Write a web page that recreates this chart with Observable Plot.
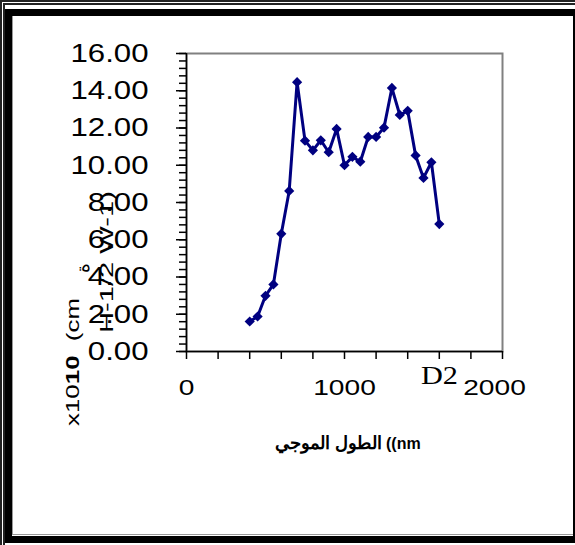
<!DOCTYPE html>
<html>
<head>
<meta charset="utf-8">
<script src="https://cdn.jsdelivr.net/npm/d3@7"></script>
<script src="https://cdn.jsdelivr.net/npm/@observablehq/plot@0.6"></script>
<style>
  html, body { margin: 0; padding: 0; background: #fff; }
  #wrap { position: relative; width: 575px; height: 545px; overflow: hidden; background: #fff; }
  #wrap svg { position: absolute; left: 0; top: 0; }
  .thin { position: absolute; left: 0; top: 0; width: 600px; height: 600px; border-top: 5px double #222; border-left: 5px double #222; box-sizing: border-box; }
  .thick { position: absolute; left: 5px; top: 9px; width: 561px; height: 520px; border: 7px solid #000; }
  .inner { position: absolute; left: 12px; top: 16px; width: 561px; height: 519px; border-left: 1px solid #999; border-bottom: 1px solid #999; box-sizing: border-box; }
</style>
</head>
<body>
<div id="wrap"></div>
<script>
// ---- data ----
const wavelength = [400, 450, 500, 550, 600, 650, 700, 750, 800, 850, 900, 950, 1000,
                    1050, 1100, 1150, 1200, 1250, 1300, 1350, 1400, 1450, 1500, 1550, 1600];
const values = [1.61, 1.88, 2.99, 3.60, 6.32, 8.62, 14.46, 11.32, 10.80, 11.34, 10.70, 11.95, 10.00,
                10.45, 10.19, 11.52, 11.52, 12.02, 14.15, 12.70, 12.92, 10.53, 9.32, 10.16, 6.84];
const yTicks = [0, 2, 4, 6, 8, 10, 12, 14, 16];
const yMinorTicks = d3.range(0, 16.001, 0.4);
const xTicks = d3.range(0, 2001, 200);
const xTickLabels = [0, 1000, 2000];
const xLabelAr = "الطول الموجي";
const xLabelUnit = "((nm";
const yLabelA = "x10";
const yLabelB = "10";
const yLabelC = "  (cm";
const yLabel2 = "H-1/2 W-1)";
const yLabelAr = "ة";
const seriesName = "D2";

const data = wavelength.map((w, i) => ({w, v: values[i]}));

const chart = Plot.plot({
  width: 575,
  height: 545,
  marginLeft: 186,
  marginRight: 73,
  marginTop: 53,
  marginBottom: 194,
  x: {domain: [0, 2000]},
  y: {domain: [0, 16]},
  style: {fontFamily: "'Liberation Sans', Arial, sans-serif", background: "transparent", color: "#000", overflow: "visible"},
  marks: [
    Plot.frame({stroke: "#808080", strokeWidth: 2}),
    Plot.axisY({ticks: yMinorTicks, tickSize: 7, tickFormat: () => "", label: null, strokeWidth: 1.5}),
    Plot.axisY({ticks: yTicks, tickSize: 10, tickPadding: 28, tickFormat: d => d.toFixed(2), label: null, fontSize: 26, strokeWidth: 1.5}),
    Plot.axisX({ticks: xTicks, tickSize: 8, tickPadding: 20, tickFormat: d => xTickLabels.includes(d) ? String(d) : "", label: null, fontSize: 22, strokeWidth: 1.5}),
    Plot.ruleX([0], {stroke: "#000", strokeWidth: 1.5}),
    Plot.ruleY([0], {stroke: "#000", strokeWidth: 1.5}),
    Plot.line(data, {x: "w", y: "v", stroke: "#000080", strokeWidth: 3}),
    Plot.dot(data, {x: "w", y: "v", symbol: "diamond2", r: 4.6, fill: "#000080", stroke: "none"})
  ]
});

const wrap = document.getElementById("wrap");
wrap.appendChild(chart);
["thin", "thick", "inner"].forEach(c => { const d = document.createElement("div"); d.className = c; wrap.appendChild(d); });

const svg = d3.select(chart);

// horizontally stretch tick labels (about their anchor) to match reference proportions;
// the last x label is nudged left, as in the reference
function stretch(sel, s) {
  sel.each(function() {
    const shift = this.textContent === "2000" ? -8 : 0;
    const tr = this.getAttribute("transform");
    if (tr) {
      this.setAttribute("transform", tr + ` translate(${shift},0) scale(${s},1)`);
    } else {
      const x = +this.getAttribute("x") || 0, y = +this.getAttribute("y") || 0;
      this.removeAttribute("x"); this.removeAttribute("y");
      this.setAttribute("transform", `translate(${x + shift},${y}) scale(${s},1)`);
    }
  });
}
stretch(svg.selectAll('g[aria-label="y-axis tick label"] text'), 1.2);
stretch(svg.selectAll('g[aria-label="x-axis tick label"] text'), 1.28);

// y-axis title (rotated)
const t1 = svg.append("text")
  .attr("transform", "translate(72,362) rotate(-90)")
  .attr("text-anchor", "middle")
  .attr("dy", "0.35em")
  .attr("font-size", 19)
  .style("white-space", "pre")
  .attr("textLength", 128)
  .attr("lengthAdjust", "spacingAndGlyphs");
t1.append("tspan").text(yLabelA);
t1.append("tspan").attr("font-weight", "bold").text(yLabelB);
t1.append("tspan").text(yLabelC);

svg.append("text")
  .attr("transform", "translate(106,262) rotate(-90)")
  .attr("text-anchor", "middle")
  .attr("dy", "0.35em")
  .attr("font-size", 19)
  .attr("textLength", 142)
  .attr("lengthAdjust", "spacingAndGlyphs")
  .text(yLabel2);

svg.append("text")
  .attr("transform", "translate(82,268) rotate(-90)")
  .attr("text-anchor", "middle")
  .attr("dy", "0.35em")
  .attr("font-size", 19)
  .text(yLabelAr);

// series tag
svg.append("text")
  .attr("x", 421).attr("y", 384)
  .attr("text-anchor", "start")
  .attr("font-family", "'Liberation Serif', 'Times New Roman', serif")
  .attr("font-size", 26)
  .attr("textLength", 37)
  .attr("lengthAdjust", "spacingAndGlyphs")
  .text(seriesName);

// x-axis title: Arabic part on the left, "((nm" on the right
svg.append("text")
  .attr("x", 382).attr("y", 443)
  .attr("text-anchor", "end")
  .attr("dy", "0.35em")
  .attr("font-size", 18)
  .attr("font-weight", "bold")
  .text(xLabelAr);
svg.append("text")
  .attr("x", 386).attr("y", 443)
  .attr("text-anchor", "start")
  .attr("dy", "0.35em")
  .attr("font-size", 16)
  .attr("font-weight", "bold")
  .text(xLabelUnit);
</script>
</body>
</html>
